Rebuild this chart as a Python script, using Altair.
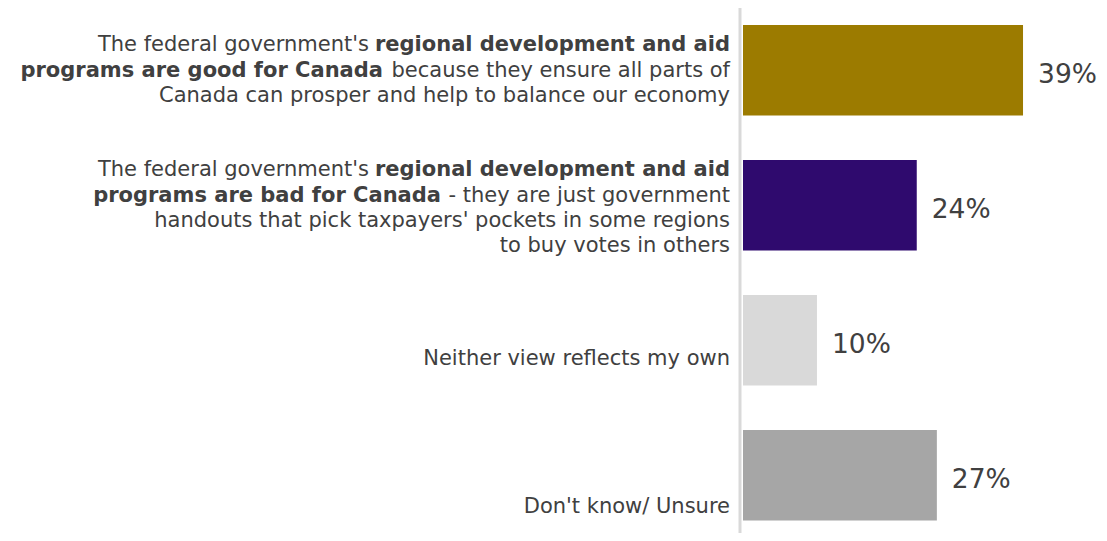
import altair as alt
import pandas as pd

# ---- data ----
categories = ["good", "bad", "neither", "unsure"]
values = [39.0, 24.2, 10.3, 27.0]
value_labels = ["39%", "24%", "10%", "27%"]
bar_colors = ["#9C7B00", "#2F0A6E", "#D9D9D9", "#A6A6A6"]

# label text: per category, list of lines; each line is list of (text, weight)
label_good = [
    [("The federal government's", "normal"), ("regional development and aid", "bold")],
    [("programs are good for Canada", "bold"), ("because they ensure all parts of", "normal")],
    [("Canada can prosper and help to balance our economy", "normal")],
]
label_bad = [
    [("The federal government's", "normal"), ("regional development and aid", "bold")],
    [("programs are bad for Canada", "bold"), ("- they are just government", "normal")],
    [("handouts that pick taxpayers' pockets in some regions", "normal")],
    [("to buy votes in others", "normal")],
]
label_neither = [[("Neither view reflects my own", "normal")]]
label_unsure = [[("Don't know/ Unsure", "normal")]]
labels = [label_good, label_bad, label_neither, label_unsure]

# ---- layout (pixels) ----
W, H = 1091, 525
RIGHT = 722          # right edge of label text
LINE = 25.3          # line spacing
HALF_BAND = 45.25
FIRST_OFF = [-19.0, -29.0, 24.75, 37.75]   # baseline of first line relative to band centre
# approximate rendered widths of trailing segments (incl. gap)
SEG_W = {
    "regional development and aid": 361.0,
    "because they ensure all parts of": 347.0,
    "- they are just government": 289.0,
}

rows = []
for cat, lines, first in zip(categories, labels, FIRST_OFF):
    for li, line in enumerate(lines):
        right = RIGHT
        for text, weight in reversed(line):
            rows.append({"cat": cat, "seg": text, "weight": weight,
                         "tx": right, "off": HALF_BAND + first + li * LINE})
            right = right - SEG_W.get(text, 0.0)
text_df = pd.DataFrame(rows)

bar_df = pd.DataFrame({"cat": categories, "value": values,
                       "label": value_labels, "color": bar_colors})

yscale = alt.Scale(domain=categories, range=[0, 529.5],
                   paddingInner=0.3296, paddingOuter=0.1259)
xscale = alt.Scale(domain=[0, 100], range=[735, 1453])

FONT = "DejaVu Sans"
TXT = "#404040"

rule = alt.Chart(bar_df).mark_rule(color="#D9D9D9", strokeWidth=3).encode(
    x=alt.value(732), y=alt.value(0), y2=alt.value(H)
).transform_filter(alt.datum.cat == "good")

bars = alt.Chart(bar_df).mark_bar().encode(
    x=alt.X("value:Q", scale=xscale, axis=None),
    y=alt.Y("cat:N", scale=yscale, axis=None, sort=categories),
    color=alt.Color("color:N", scale=None, legend=None),
)

pct = alt.Chart(bar_df).mark_text(
    align="left", baseline="alphabetic", dx=15, dy=12.5,
    font=FONT, fontSize=26.5, color=TXT
).encode(
    x=alt.X("value:Q", scale=xscale, axis=None),
    y=alt.Y("cat:N", scale=yscale, axis=None, sort=categories),
    text="label:N",
)

def seg_layer(weight):
    return alt.Chart(text_df).transform_filter(
        alt.datum.weight == weight
    ).mark_text(
        align="right", baseline="alphabetic", font=FONT, fontSize=21,
        fontWeight=weight, color=TXT
    ).encode(
        x=alt.X("tx:Q", scale=None, axis=None),
        y=alt.Y("cat:N", scale=yscale, axis=None, sort=categories),
        yOffset=alt.YOffset("off:Q", scale=None),
        text="seg:N",
    )

chart = alt.layer(rule, bars, pct, seg_layer("normal"), seg_layer("bold")).resolve_scale(
    x="independent"
).properties(
    width=W, height=H, padding=0, autosize=alt.AutoSizeParams(type="none")
).configure_view(stroke=None)

chart.save("out.html", embed_options={"renderer": "svg", "actions": False})
